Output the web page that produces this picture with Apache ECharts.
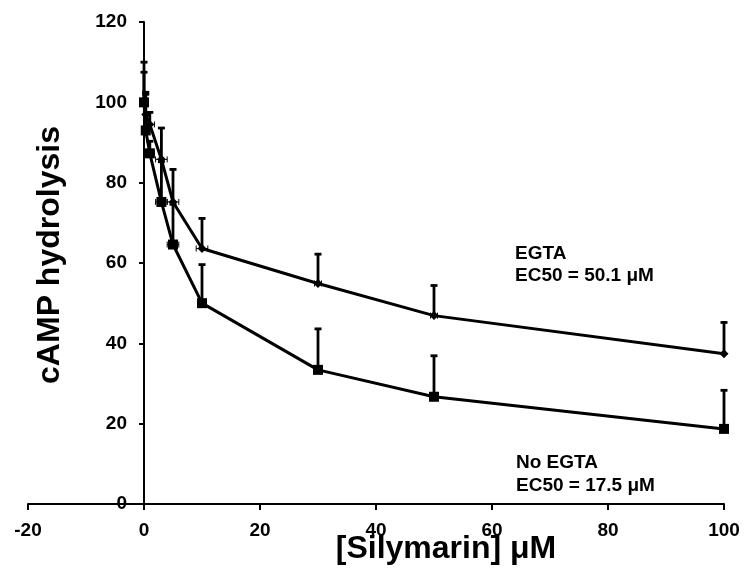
<!DOCTYPE html>
<html>
<head>
<meta charset="utf-8">
<script src="https://cdn.jsdelivr.net/npm/echarts@6/dist/echarts.min.js"></script>
<style>
  html, body { margin: 0; padding: 0; background: #fff; }
  #chart { width: 745px; height: 581px; }
</style>
</head>
<body>
<div id="chart"></div>
<script>
// silymarin concentration (uM)
const doses = [0, 0.3, 1, 3, 5, 10, 30, 50, 100];

// EGTA series (diamonds)
const egtaMean = [100, 97, 94.5, 85.8, 75.2, 63.6, 54.9, 46.9, 37.4];
const egtaErr = [7.5, 5, 3, 7.8, 8.1, 7.5, 7.3, 7.5, 7.8];
const egtaXErr = [0, 0.4, 0.8, 1, 1, 1, 0.6, 0.6, 0];

// No EGTA series (squares)
const noEgtaMean = [100, 93, 87.3, 75.2, 64.6, 50, 33.4, 26.7, 18.7];
const noEgtaErr = [10, 9.5, 3, 10, 10, 9.6, 10.2, 10.2, 9.6];
const noEgtaXErr = [0, 0.4, 0.8, 1, 1, 0.6, 0.6, 0, 0];

const xTicks = { min: -20, max: 100, step: 20 };
const yTicks = { min: 0, max: 120, step: 20 };

const FONT = '"Liberation Sans", Arial, sans-serif';

function pairs(xs, ys) {
  return xs.map((x, i) => [x, ys[i]]);
}

function errRows(xs, ys, ey, ex) {
  return xs.map((x, i) => [x, ys[i], ey[i], ex[i]]);
}

function renderErrorBar(params, api) {
  const x = api.value(0);
  const y = api.value(1);
  const ey = api.value(2);
  const ex = api.value(3);
  const p = api.coord([x, y]);
  const children = [];
  if (ey > 0) {
    const top = api.coord([x, y + ey]);
    children.push({
      type: "line",
      shape: { x1: p[0], y1: p[1], x2: top[0], y2: top[1] },
      style: { stroke: "#000", lineWidth: 2.8 },
    });
    children.push({
      type: "line",
      shape: { x1: top[0] - 3.5, y1: top[1], x2: top[0] + 3.5, y2: top[1] },
      style: { stroke: "#000", lineWidth: 2.8 },
    });
  }
  if (ex > 0) {
    const l = api.coord([x - ex, y]);
    const r = api.coord([x + ex, y]);
    children.push({
      type: "line",
      shape: { x1: l[0], y1: l[1], x2: r[0], y2: r[1] },
      style: { stroke: "#000", lineWidth: 1 },
    });
    [l, r].forEach((c) => {
      children.push({
        type: "line",
        shape: { x1: c[0], y1: c[1] - 3, x2: c[0], y2: c[1] + 3 },
        style: { stroke: "#000", lineWidth: 1 },
      });
    });
  }
  return { type: "group", children: children };
}

const chart = echarts.init(document.getElementById("chart"));

const axisLabelStyle = {
  color: "#000",
  fontFamily: FONT,
  fontWeight: "bold",
  fontSize: 19,
};

const option = {
  backgroundColor: "#fff",
  animation: false,
  grid: {
    left: 28,
    right: 21,
    top: 22,
    bottom: 77,
    containLabel: false,
    outerBoundsMode: "none",
  },
  xAxis: {
    type: "value",
    min: xTicks.min,
    max: xTicks.max,
    interval: xTicks.step,
    axisLine: { onZero: false, lineStyle: { color: "#000", width: 2 } },
    axisTick: { show: true, inside: false, length: 6, lineStyle: { color: "#000", width: 2 } },
    axisLabel: Object.assign({ margin: 17 }, axisLabelStyle),
    splitLine: { show: false },
  },
  yAxis: {
    type: "value",
    min: yTicks.min,
    max: yTicks.max,
    interval: yTicks.step,
    // sit the y axis on x = 0
    offset: -116,
    axisLine: { show: true, onZero: false, lineStyle: { color: "#000", width: 2 } },
    axisTick: { show: true, inside: false, length: 5, lineStyle: { color: "#000", width: 2 } },
    axisLabel: Object.assign({ margin: 17 }, axisLabelStyle),
    splitLine: { show: false },
  },
  graphic: [
    {
      type: "text",
      x: 50,
      y: 255,
      rotation: Math.PI / 2,
      style: {
        text: "cAMP hydrolysis",
        fill: "#000",
        font: "bold 32px " + FONT,
        textAlign: "center",
        textVerticalAlign: "middle",
      },
    },
    {
      type: "text",
      x: 446,
      y: 549,
      style: {
        text: "[Silymarin] μM",
        fill: "#000",
        font: "bold 32px " + FONT,
        textAlign: "center",
        textVerticalAlign: "middle",
      },
    },
    {
      type: "text",
      left: 515,
      top: 243,
      style: {
        text: "EGTA\nEC50 = 50.1 μM",
        fill: "#000",
        font: "bold 19px " + FONT,
        lineHeight: 22,
        textAlign: "left",
      },
    },
    {
      type: "text",
      left: 516,
      top: 451,
      style: {
        text: "No EGTA\nEC50 = 17.5 μM",
        fill: "#000",
        font: "bold 19px " + FONT,
        lineHeight: 23,
        textAlign: "left",
      },
    },
  ],
  series: [
    {
      name: "EGTA err",
      type: "custom",
      renderItem: renderErrorBar,
      data: errRows(doses, egtaMean, egtaErr, egtaXErr),
      z: 1,
    },
    {
      name: "No EGTA err",
      type: "custom",
      renderItem: renderErrorBar,
      data: errRows(doses, noEgtaMean, noEgtaErr, noEgtaXErr),
      z: 1,
    },
    {
      name: "EGTA",
      type: "line",
      data: pairs(doses, egtaMean),
      symbol: "diamond",
      symbolSize: 9,
      showAllSymbol: true,
      lineStyle: { color: "#000", width: 3 },
      itemStyle: { color: "#000", borderWidth: 0 },
      z: 2,
    },
    {
      name: "No EGTA",
      type: "line",
      data: pairs(doses, noEgtaMean),
      symbol: "rect",
      symbolSize: 10,
      showAllSymbol: true,
      lineStyle: { color: "#000", width: 3 },
      itemStyle: { color: "#000", borderWidth: 0 },
      z: 2,
    },
  ],
};

chart.setOption(option);
</script>
</body>
</html>
